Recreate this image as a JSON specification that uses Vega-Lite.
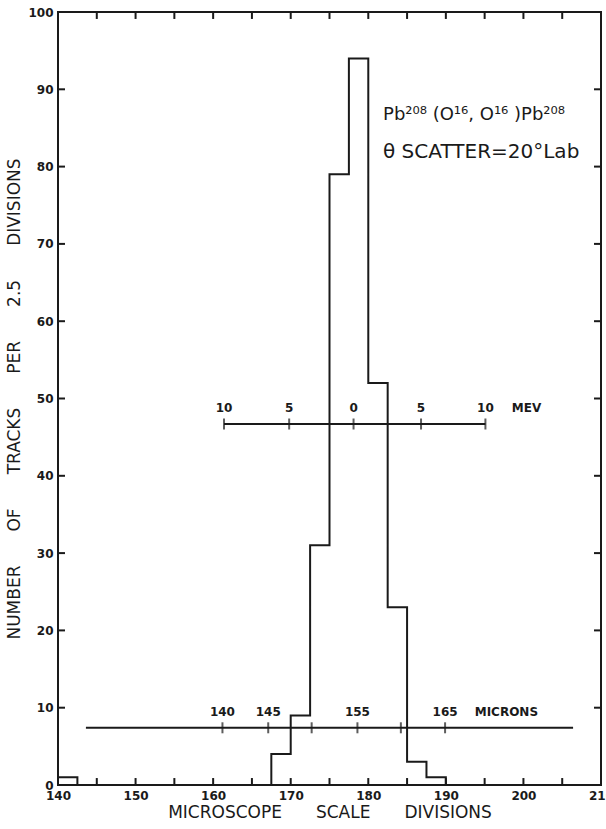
{
  "$schema": "https://vega.github.io/schema/vega-lite/v6.json",
  "width": 543,
  "height": 773,
  "autosize": "none",
  "padding": {"left": 58, "top": 12, "right": 5, "bottom": 44},
  "background": "white",
  "config": {
    "view": {"stroke": "#1a1a1a", "strokeWidth": 2},
    "font": "DejaVu Sans",
    "axis": {
      "domain": false,
      "ticks": false,
      "grid": false,
      "labelColor": "#1a1a1a",
      "labelFont": "DejaVu Sans",
      "labelFontWeight": "bold",
      "labelFontSize": 12,
      "titleColor": "#1a1a1a",
      "titleFont": "DejaVu Sans",
      "titleFontWeight": "normal",
      "titleFontSize": 17
    }
  },
  "datasets": {
    "hist": [
      {"division": 140, "bin_end": 142.5, "count": 1},
      {"division": 142.5, "bin_end": 145, "count": 0},
      {"division": 167.5, "bin_end": 170, "count": 4},
      {"division": 170, "bin_end": 172.5, "count": 9},
      {"division": 172.5, "bin_end": 175, "count": 31},
      {"division": 175, "bin_end": 177.5, "count": 79},
      {"division": 177.5, "bin_end": 180, "count": 94},
      {"division": 180, "bin_end": 182.5, "count": 52},
      {"division": 182.5, "bin_end": 185, "count": 23},
      {"division": 185, "bin_end": 187.5, "count": 3},
      {"division": 187.5, "bin_end": 190, "count": 1},
      {"division": 190, "bin_end": 192.5, "count": 0}
    ],
    "frame_x": [
      {"division": 145}, {"division": 150}, {"division": 155}, {"division": 160},
      {"division": 165}, {"division": 170}, {"division": 175}, {"division": 180},
      {"division": 185}, {"division": 190}, {"division": 195}, {"division": 200},
      {"division": 205}
    ],
    "frame_y": [
      {"count": 10}, {"count": 20}, {"count": 30}, {"count": 40}, {"count": 50},
      {"count": 60}, {"count": 70}, {"count": 80}, {"count": 90}
    ],
    "scales": [
      {"scale": "MEV", "division": 161.4, "end": 195.1, "count": 46.7},
      {"scale": "microns", "division": 143.6, "end": 206.4, "count": 7.4}
    ],
    "ticks": [
      {"scale": "MEV", "division": 161.4, "count": 46.7, "label": "10"},
      {"scale": "MEV", "division": 169.8, "count": 46.7, "label": "5"},
      {"scale": "MEV", "division": 178.1, "count": 46.7, "label": "0"},
      {"scale": "MEV", "division": 186.8, "count": 46.7, "label": "5"},
      {"scale": "MEV", "division": 195.1, "count": 46.7, "label": "10"},
      {"scale": "microns", "division": 161.2, "count": 7.4, "label": "140"},
      {"scale": "microns", "division": 167.1, "count": 7.4, "label": "145"},
      {"scale": "microns", "division": 172.7, "count": 7.4, "label": ""},
      {"scale": "microns", "division": 178.6, "count": 7.4, "label": "155"},
      {"scale": "microns", "division": 184.2, "count": 7.4, "label": ""},
      {"scale": "microns", "division": 189.9, "count": 7.4, "label": "165"}
    ],
    "units": [
      {"text": "MEV", "division": 200.4, "count": 46.7},
      {"text": "MICRONS", "division": 197.8, "count": 7.4}
    ],
    "notes": [
      {"text": "Pb²⁰⁸ (O¹⁶, O¹⁶ )Pb²⁰⁸", "division": 181.9, "count": 86.7, "size": "a"},
      {"text": "θ SCATTER=20°Lab", "division": 181.9, "count": 81.9, "size": "b"}
    ]
  },
  "layer": [
    {
      "data": {"name": "hist"},
      "mark": {"type": "line", "interpolate": "step-after", "color": "#1a1a1a", "strokeWidth": 2},
      "encoding": {
        "x": {
          "field": "division", "type": "quantitative",
          "scale": {"domain": [140, 210], "nice": false, "zero": false},
          "axis": {
            "orient": "bottom",
            "values": [140,150,160,170,180,190,200,210],
            "labelPadding": 5,
            "labelFlush": false,
            "title": "MICROSCOPE\u2003\u2003SCALE\u2003\u2003DIVISIONS",
            "titlePadding": 3
          }
        },
        "y": {
          "field": "count", "type": "quantitative",
          "scale": {"domain": [0, 100], "nice": false},
          "axis": {
            "orient": "left",
            "values": [0,10,20,30,40,50,60,70,80,90,100],
            "labelPadding": 5,
            "labelFlush": false,
            "title": "NUMBER\u2003\u2003OF\u2003\u2003TRACKS\u2003\u2003PER\u2003\u20032.5\u2003\u2003DIVISIONS",
            "titlePadding": 4
          }
        }
      }
    },
    {
      "data": {"name": "frame_x"},
      "mark": {"type": "rule", "color": "#1a1a1a", "strokeWidth": 2},
      "encoding": {
        "x": {"field": "division", "type": "quantitative"},
        "y": {"datum": 0, "type": "quantitative"},
        "y2": {"datum": 0.9}
      }
    },
    {
      "data": {"name": "frame_x"},
      "mark": {"type": "rule", "color": "#1a1a1a", "strokeWidth": 2},
      "encoding": {
        "x": {"field": "division", "type": "quantitative"},
        "y": {"datum": 100, "type": "quantitative"},
        "y2": {"datum": 99.1}
      }
    },
    {
      "data": {"name": "frame_y"},
      "mark": {"type": "rule", "color": "#1a1a1a", "strokeWidth": 2},
      "encoding": {
        "y": {"field": "count", "type": "quantitative"},
        "x": {"datum": 140, "type": "quantitative"},
        "x2": {"datum": 140.9}
      }
    },
    {
      "data": {"name": "frame_y"},
      "mark": {"type": "rule", "color": "#1a1a1a", "strokeWidth": 2},
      "encoding": {
        "y": {"field": "count", "type": "quantitative"},
        "x": {"datum": 210, "type": "quantitative"},
        "x2": {"datum": 209.1}
      }
    },
    {
      "data": {"name": "scales"},
      "mark": {"type": "rule", "color": "#1a1a1a", "strokeWidth": 2},
      "encoding": {
        "x": {"field": "division", "type": "quantitative"},
        "x2": {"field": "end"},
        "y": {"field": "count", "type": "quantitative"}
      }
    },
    {
      "data": {"name": "ticks"},
      "mark": {"type": "tick", "orient": "vertical", "size": 11, "thickness": 2, "color": "#1a1a1a"},
      "encoding": {
        "x": {"field": "division", "type": "quantitative"},
        "y": {"field": "count", "type": "quantitative"}
      }
    },
    {
      "data": {"name": "ticks"},
      "mark": {"type": "text", "dy": -16, "fontSize": 12, "fontWeight": "bold", "color": "#1a1a1a", "align": "center", "baseline": "middle"},
      "encoding": {
        "x": {"field": "division", "type": "quantitative"},
        "y": {"field": "count", "type": "quantitative"},
        "text": {"field": "label"}
      }
    },
    {
      "data": {"name": "units"},
      "mark": {"type": "text", "dy": -16, "fontSize": 12, "fontWeight": "bold", "color": "#1a1a1a", "align": "center", "baseline": "middle"},
      "encoding": {
        "x": {"field": "division", "type": "quantitative"},
        "y": {"field": "count", "type": "quantitative"},
        "text": {"field": "text"}
      }
    },
    {
      "data": {"name": "notes"},
      "mark": {"type": "text", "color": "#1a1a1a", "align": "left", "baseline": "middle"},
      "encoding": {
        "x": {"field": "division", "type": "quantitative"},
        "y": {"field": "count", "type": "quantitative"},
        "text": {"field": "text"},
        "size": {"field": "size", "type": "nominal", "scale": {"domain": ["a", "b"], "range": [18, 20]}, "legend": null}
      }
    }
  ]
}
